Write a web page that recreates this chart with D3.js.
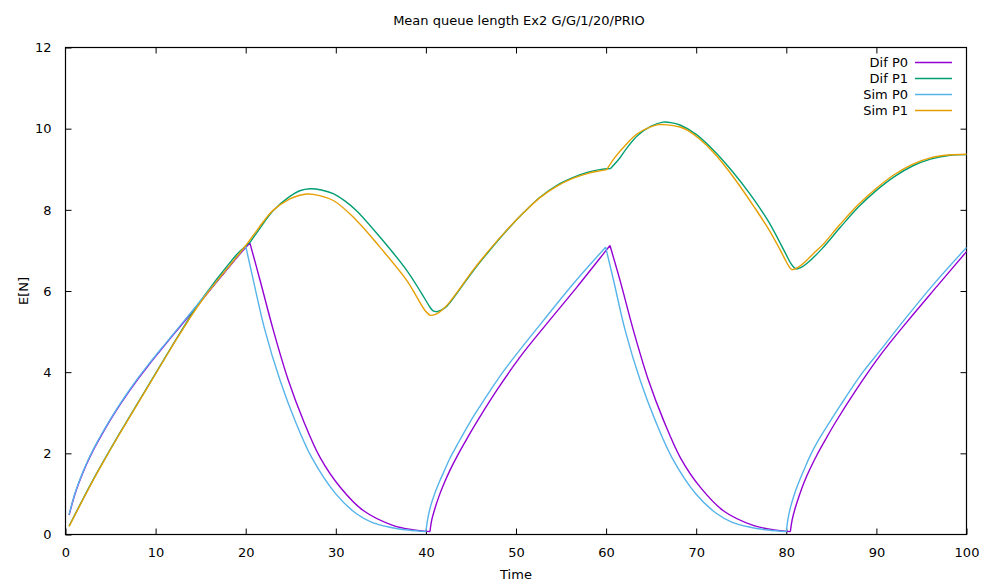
<!DOCTYPE html>
<html>
<head>
<meta charset="utf-8">
<script src="https://cdn.jsdelivr.net/npm/d3@7/dist/d3.min.js"></script>
<style>
  html, body { margin: 0; padding: 0; background: #fff; }
  svg { display: block; }
  text { font-family: "DejaVu Sans", sans-serif; fill: #000; }
</style>
</head>
<body>
<div id="chart"></div>
<script>
// ---------- Data ----------
const title = "Mean queue length Ex2 G/G/1/20/PRIO";
const xLabel = "Time";
const yLabel = "E[N]";
const xTicks = [0, 10, 20, 30, 40, 50, 60, 70, 80, 90, 100];
const yTicks = [0, 2, 4, 6, 8, 10, 12];
const seriesNames = ["Dif P0", "Dif P1", "Sim P0", "Sim P1"];
const seriesColors = ["#9400d3", "#009e73", "#56b4e9", "#e69f00"];

// Each series is a list of smooth pieces [time, E[N]]; pieces meet at the corners.
const difP0 = [
  [[0.4,0.48],[1,0.96],[1.5,1.28],[2,1.56],[2.5,1.81],[3,2.04],[3.5,2.25],[4,2.45],[5,2.83],[6,3.18],[7,3.51],[8,3.82],[9,4.11],[10,4.39],[11,4.66],[12,4.93],[13,5.2],[14,5.47],[15,5.74],[16,6.01],[17,6.28],[18,6.55],[19,6.82],[20,7.07],[20.47,7.18]],
  [[20.47,7.18],[21.6,6.26],[23.07,5.03],[24.73,3.80],[26.4,2.81],[28.25,1.90],[30.47,1.17],[33.05,0.59],[36.4,0.22],[38.5,0.12],[40.45,0.07]],
  [[40.45,0.07],[40.65,0.36],[41,0.64],[41.5,0.97],[42,1.25],[42.6,1.55],[43.4,1.9],[44.4,2.3],[45.45,2.7],[47.86,3.55],[50.44,4.37],[53.4,5.19],[56.74,6.09],[60,7.0],[60.43,7.12]],
  [[60.43,7.12],[61.6,6.22],[63.07,5.0],[64.73,3.78],[66.4,2.8],[68.25,1.89],[70.47,1.16],[73.05,0.58],[76.4,0.22],[78.5,0.12],[80.45,0.07]],
  [[80.45,0.07],[80.65,0.36],[81,0.66],[81.5,1.0],[82,1.3],[82.6,1.6],[83.4,1.96],[84.4,2.36],[85.45,2.76],[87.86,3.6],[90.44,4.42],[93.4,5.24],[96.74,6.12],[100,6.97]]
];
const difP1 = [
  [[0.4,0.21],[1,0.47],[2,0.9],[3,1.32],[4,1.72],[5,2.11],[6,2.49],[7,2.86],[8,3.23],[9,3.6],[10,3.97],[11,4.34],[12,4.71],[13,5.07],[14,5.43],[15,5.76],[16,6.06],[17,6.35],[18,6.63],[19,6.9],[20,7.11],[20.48,7.2]],
  [[20.48,7.2],[21.5,7.52],[23.06,7.98],[24.9,8.33],[26,8.47],[27.14,8.52],[28.4,8.49],[29.72,8.40],[31,8.22],[32.3,7.98],[34.9,7.33],[37.87,6.51],[39.5,5.95],[40.46,5.6],[40.8,5.51],[41.2,5.49]],
  [[41.2,5.49],[41.7,5.53],[42.3,5.62],[43.5,5.96],[45.26,6.5],[47,6.98],[48.97,7.49],[50.8,7.92],[52.66,8.31],[54.5,8.6],[56.36,8.8],[58,8.93],[59.3,8.99],[60.5,9.02]],
  [[60.5,9.02],[61.5,9.27],[62.3,9.52],[63.5,9.83],[65,10.06],[66.3,10.16],[67.2,10.15],[68.2,10.09],[70,9.86],[72,9.45],[74,8.95],[76,8.38],[78,7.72],[79.86,6.95],[80.5,6.68],[80.9,6.57],[81.15,6.54]],
  [[81.15,6.54],[81.8,6.6],[82.5,6.72],[84,7.05],[86,7.57],[88,8.07],[90,8.48],[92,8.82],[94,9.08],[96,9.25],[98,9.34],[100,9.36]]
];
const simP0 = [
  [[0.4,0.49],[1,0.98],[1.5,1.3],[2,1.58],[2.5,1.83],[3,2.06],[3.5,2.27],[4,2.47],[5,2.85],[6,3.2],[7,3.53],[8,3.84],[9,4.13],[10,4.41],[11,4.68],[12,4.95],[13,5.22],[14,5.49],[15,5.76],[16,6.03],[17,6.3],[18,6.57],[19,6.84],[20,7.11]],
  [[20,7.11],[20.85,6.26],[22.14,5.03],[23.81,3.80],[25.47,2.81],[27.32,1.90],[30,1.0],[32.3,0.51],[34,0.3],[36,0.18],[38,0.11],[40,0.07]],
  [[40,0.07],[40.2,0.38],[40.5,0.68],[41,1.02],[41.5,1.3],[42,1.55],[42.67,1.88],[43.5,2.22],[44.9,2.77],[46,3.16],[47.3,3.6],[48.6,4.02],[50.08,4.45],[53.03,5.27],[56.36,6.18],[59.95,7.08]],
  [[59.95,7.08],[60.85,6.24],[62.14,5.01],[63.81,3.78],[65.47,2.80],[67.32,1.89],[70,0.99],[72.3,0.51],[74,0.3],[76,0.18],[78,0.11],[80,0.07]],
  [[80,0.07],[80.2,0.4],[80.5,0.7],[81,1.06],[81.5,1.35],[82,1.61],[82.63,1.93],[83.5,2.3],[84.9,2.8],[86,3.18],[87.3,3.62],[88.6,4.03],[90.4,4.53],[93.03,5.27],[96.36,6.17],[100,7.07]]
];
const simP1 = [
  [[0.4,0.2],[1,0.46],[2,0.89],[3,1.31],[4,1.71],[5,2.1],[6,2.48],[7,2.85],[8,3.22],[9,3.59],[10,3.96],[11,4.33],[12,4.7],[13,5.05],[14,5.4],[15,5.72],[16,6.02],[17,6.3],[18,6.57],[19,6.84],[20,7.12]],
  [[20,7.12],[21,7.42],[22,7.72],[23,7.98],[24.9,8.27],[26,8.36],[26.8,8.39],[27.5,8.38],[29.72,8.23],[32.3,7.74],[34.9,7.08],[37.87,6.26],[39.9,5.52],[40.45,5.4]],
  [[40.45,5.4],[41,5.42],[41.5,5.48],[42.3,5.64],[43.5,5.98],[45.26,6.52],[47,7.0],[48.97,7.5],[50.8,7.92],[52.66,8.3],[54.5,8.58],[56.36,8.78],[58,8.9],[59.3,8.96],[60.07,8.99]],
  [[60.07,8.99],[61,9.3],[62.3,9.63],[63.5,9.88],[65,10.05],[65.8,10.1],[66.5,10.1],[68.2,10.04],[69.1,9.95],[70.5,9.72],[71.9,9.42],[73.3,9.05],[74.8,8.6],[76.5,8.05],[78.1,7.5],[79.3,7.02],[80,6.72],[80.4,6.57],[80.67,6.52]],
  [[80.67,6.52],[81.3,6.58],[82,6.7],[83,6.92],[84,7.13],[86,7.65],[88,8.13],[90,8.53],[92,8.87],[94,9.12],[96,9.28],[98,9.35],[100,9.37]]
];
const allSeries = [difP0, difP1, simP0, simP1];

// ---------- Layout ----------
const W = 987, H = 581;
const plot = { left: 65.5, right: 966.5, top: 47.5, bottom: 534.5 };

const svg = d3.select("#chart").append("svg")
  .attr("width", W).attr("height", H);

const x = d3.scaleLinear().domain([0, 100]).range([plot.left, plot.right]);
const y = d3.scaleLinear().domain([0, 12]).range([plot.bottom, plot.top]);

const fs = 13;

// Axes: ticks inward, mirrored on opposite sides
const tickLen = 6;
const bottomAxis = d3.axisBottom(x).tickValues(xTicks).tickSize(-tickLen).tickPadding(tickLen + 7).tickFormat(d3.format("d"));
const topAxis = d3.axisTop(x).tickValues(xTicks.slice(1, -1)).tickSize(-tickLen).tickFormat("");
const leftAxis = d3.axisLeft(y).tickValues(yTicks).tickSize(-tickLen).tickPadding(tickLen + 8).tickFormat(d3.format("d"));
const rightAxis = d3.axisRight(y).tickValues(yTicks.slice(1, -1)).tickSize(-tickLen).tickFormat("");

function styleAxis(g) {
  g.select(".domain").remove();
  g.selectAll(".tick line").attr("stroke", "#000").attr("stroke-width", 1);
  g.selectAll(".tick text").attr("font-size", fs).attr("font-family", "DejaVu Sans, sans-serif").attr("fill", "#000");
}

svg.append("g").attr("transform", `translate(0,${plot.bottom})`).call(bottomAxis).call(styleAxis);
svg.append("g").attr("transform", `translate(0,${plot.top})`).call(topAxis).call(styleAxis);
svg.append("g").attr("transform", `translate(${plot.left},0)`).call(leftAxis).call(styleAxis);
svg.append("g").attr("transform", `translate(${plot.right},0)`).call(rightAxis).call(styleAxis);

// Border
svg.append("rect")
  .attr("x", plot.left).attr("y", plot.top)
  .attr("width", plot.right - plot.left).attr("height", plot.bottom - plot.top)
  .attr("fill", "none").attr("stroke", "#000").attr("stroke-width", 1.2);

// Lines
const line = d3.line().x(d => x(d[0])).y(d => y(d[1])).curve(d3.curveCatmullRom.alpha(0.5));
const gLines = svg.append("g");
allSeries.forEach((pieces, i) => {
  const path = pieces.map(p => line(p)).join("");
  gLines.append("path")
    .attr("d", path)
    .attr("fill", "none")
    .attr("stroke", seriesColors[i])
    .attr("stroke-width", 1.4)
    .attr("stroke-linejoin", "round");
});

// Title and axis labels
svg.append("text").attr("x", 519).attr("y", 25).attr("text-anchor", "middle")
  .attr("font-size", fs).text(title);
svg.append("text").attr("x", (plot.left + plot.right) / 2).attr("y", 579).attr("text-anchor", "middle")
  .attr("font-size", fs).text(xLabel);
svg.append("text").attr("transform", `translate(28,${(plot.top + plot.bottom) / 2}) rotate(-90)`)
  .attr("text-anchor", "middle").attr("font-size", fs).text(yLabel);

// Legend
const legend = svg.append("g");
seriesNames.forEach((name, i) => {
  const cy = 62.5 + i * 16;
  legend.append("text").attr("x", 908).attr("y", cy + 4.5).attr("text-anchor", "end")
    .attr("font-size", fs).text(name);
  legend.append("line").attr("x1", 915).attr("x2", 952).attr("y1", cy).attr("y2", cy)
    .attr("stroke", seriesColors[i]).attr("stroke-width", 1.4);
});
</script>
</body>
</html>
